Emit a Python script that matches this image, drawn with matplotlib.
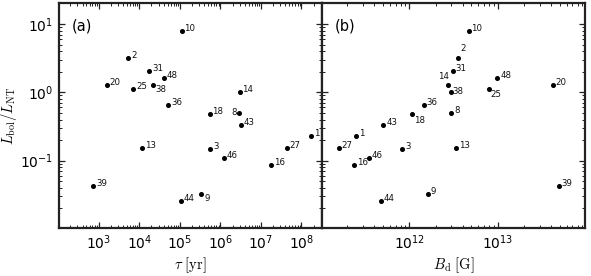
import matplotlib
matplotlib.use("Agg")
import matplotlib.pyplot as plt
import numpy as np

plt.rcParams['mathtext.fontset'] = 'cm'
plt.rcParams['font.family'] = ['DejaVu Sans']

ids = ['10', '2', '31', '48', '20', '25', '38', '36', '14', '18', '8', '43', '1',
       '13', '3', '46', '16', '27', '39', '44', '9']
tau = [1.11e5, 5.4e3, 1.78e4, 4.1e4, 1.6e3, 7.2e3, 2.14e4, 5.2e4, 3.0e6, 5.4e5, 2.8e6, 3.2e6, 1.7e8,
       1.17e4, 5.6e5, 1.2e6, 1.8e7, 4.3e7, 7.4e2, 1.07e5, 3.4e5]
Bd = [4.7e12, 3.6e12, 3.1e12, 9.9e12, 4.2e13, 7.9e12, 2.76e12, 1.45e12, 2.96e12, 1.08e12, 3.0e12, 5.1e11, 2.5e11,
      3.4e12, 8.3e11, 3.5e11, 2.4e11, 1.6e11, 4.9e13, 4.8e11, 1.62e12]
Lratio = [8.0, 3.2, 2.06, 1.63, 1.30, 1.13, 1.28, 0.66, 1.0, 0.475, 0.50, 0.335, 0.233,
          0.155, 0.149, 0.111, 0.0855, 0.155, 0.042, 0.0258, 0.0327]

# label placement per panel: (dx, dy in points, ha, va)
default = (2, 0, 'left', 'baseline')
lab_a = {'9': (2, 0, 'left', 'top'), '38': (2, 0, 'left', 'top'),
         '8': (-1.2, 0, 'right', 'center')}
lab_b = {'2': (1.5, 3.5, 'left', 'bottom'), '25': (1.5, -1.2, 'left', 'top'),
         '18': (1.5, -1.0, 'left', 'top'), '14': (-1.4, 7.9, 'right', 'bottom'),
         '38': (2.7, -4.5, 'left', 'center')}

fig = plt.figure(figsize=(5.91, 2.76), dpi=100)
ax1 = fig.add_axes([0.0998, 0.1728, 0.445, 0.8172])
ax2 = fig.add_axes([0.5448, 0.1728, 0.445, 0.8172], sharey=ax1)

spine_col = '#222222'
for ax, xs, labs, tag in [(ax1, tau, lab_a, '(a)'), (ax2, Bd, lab_b, '(b)')]:
    ax.set_xscale('log')
    ax.set_yscale('log')
    ax.plot(xs, Lratio, 'o', color='black', markersize=2.6, linestyle='none')
    for x, y, s in zip(xs, Lratio, ids):
        dx, dy, ha, va = labs.get(s, default)
        ax.annotate(s, (x, y), xytext=(dx, dy), textcoords='offset points',
                    ha=ha, va=va, fontsize=6.2, color='#111111')
    ax.text(0.05, 0.93, tag, transform=ax.transAxes, fontsize=10.5, va='top', ha='left')
    for sp in ax.spines.values():
        sp.set_linewidth(1.6)
        sp.set_color(spine_col)
    ax.tick_params(which='both', direction='in', top=True, right=True, labelsize=10,
                   color=spine_col, pad=4)
    ax.tick_params(which='major', length=4, width=0.9)
    ax.tick_params(which='minor', length=2.2, width=0.7)

ax1.set_xlim(1.05e2, 3.2e8)
ax2.set_xlim(1.03e11, 0.97e14)
ax1.set_ylim(0.0102, 20.5)
ax2.tick_params(labelleft=False)

ax1.set_xlabel(r'$\tau\ [\mathrm{yr}]$', fontsize=10.5, labelpad=2)
ax2.set_xlabel(r'$B_{\rm d}\ [\mathrm{G}]$', fontsize=10.5, labelpad=2)
ax1.set_ylabel(r'$L_{\rm bol}/L_{\rm NT}$', fontsize=10.5, labelpad=1)

fig.savefig('out.png', dpi=100)
